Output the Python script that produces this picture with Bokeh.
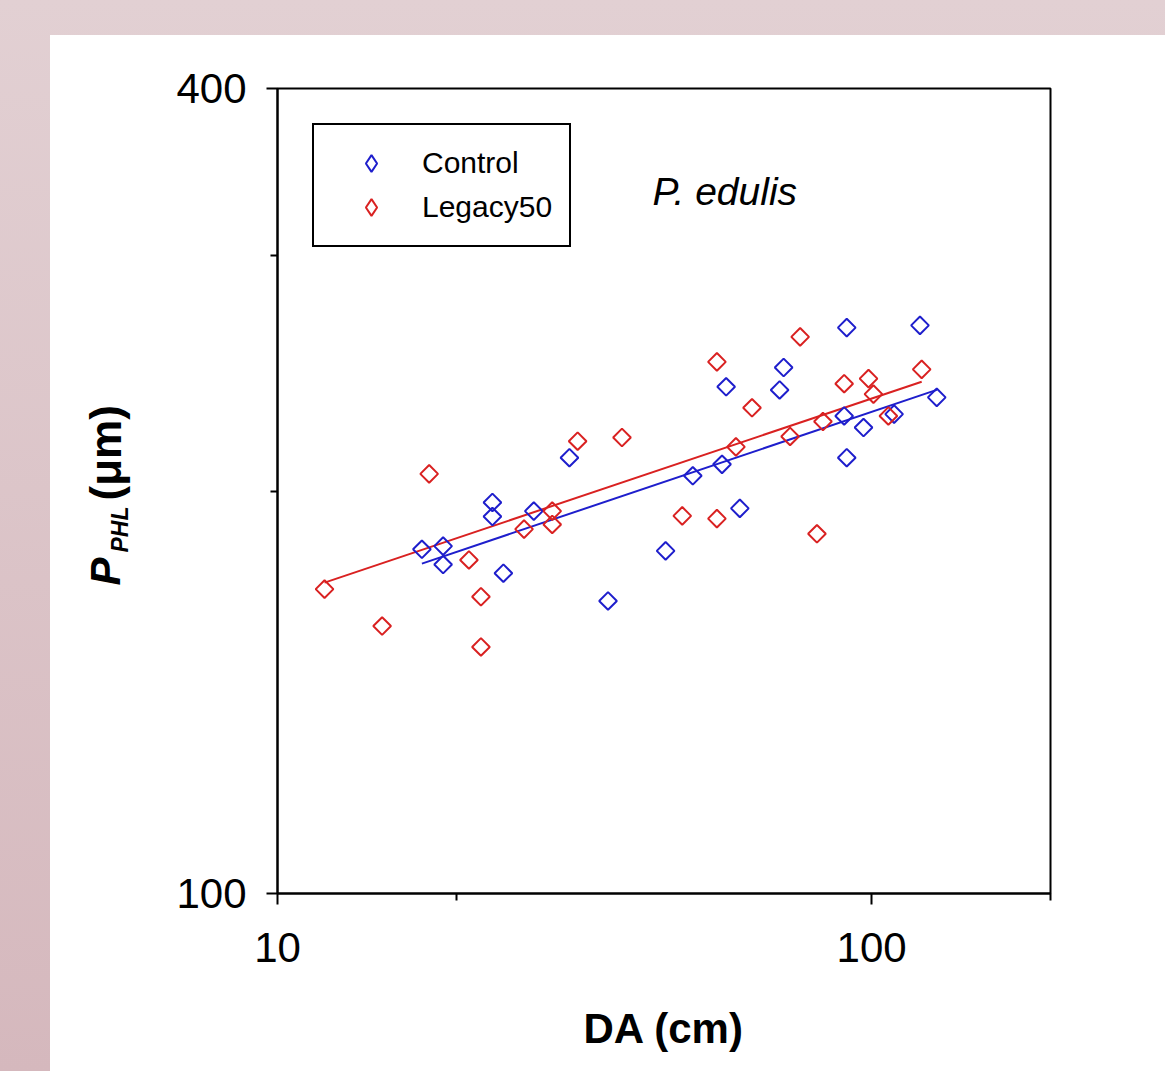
import numpy as np
from bokeh.plotting import figure
from bokeh.layouts import row
from bokeh.models import (Range1d, FixedTicker, BasicTickFormatter, Legend, LegendItem, Label)
from bokeh.core.properties import value
from bokeh.embed import file_html
from bokeh.resources import INLINE

# ---- data ----
ctrl_da = [17.5, 19.0, 19.0, 23.0, 23.0, 24.0, 27.0, 31.0, 36.0, 45.0, 50.0, 56.9,
           56.0, 60.0, 71.1, 70.0, 90.8, 89.9, 90.8, 96.9, 109.1, 120.6, 128.7]
ctrl_p = [180.9, 181.9, 176.2, 196.1, 191.4, 173.6, 193.2, 211.8, 165.5, 180.4, 205.3, 239.3,
          209.4, 194.1, 247.4, 238.0, 265.0, 227.6, 211.8, 223.1, 228.3, 266.0, 235.0]
leg_da = [12.0, 15.0, 18.0, 22.0, 22.0, 21.0, 26.0, 29.0, 29.0, 32.0, 38.0, 48.0, 54.9,
          54.9, 59.1, 62.9, 75.8, 72.9, 80.9, 82.8, 89.9, 98.8, 100.7, 106.7, 121.4]
leg_p = [168.9, 158.5, 206.0, 166.7, 152.9, 177.6, 187.3, 188.8, 193.2, 217.9, 219.3, 191.6, 249.8,
         190.7, 215.8, 230.8, 260.8, 219.7, 185.8, 225.4, 240.6, 242.7, 236.3, 227.6, 246.6]

# fitted power laws (log10 P = a + b*log10 DA)
ctrl_fit = [2.0604, 0.1499]
leg_fit = [2.0712, 0.1495]

x_major = [10, 100]
x_minor = [20, 200]
y_major = [100, 400]
y_minor = [200, 300]

BLUE = "#1E1ECC"
RED = "#D92121"
FONT = "Liberation Sans"

# ---------------- main plot ----------------
p = figure(width=1015, height=1036, x_axis_type="log", y_axis_type="log",
           x_range=Range1d(10, 200), y_range=Range1d(100, 400),
           output_backend="svg", toolbar_location=None, title=None)
p.min_border_left = 127
p.min_border_right = 115
p.min_border_top = 53
p.min_border_bottom = 178
p.border_fill_color = "white"
p.background_fill_color = "white"
p.outline_line_color = "black"
p.outline_line_width = 2
p.grid.visible = False

for ax in (p.xaxis[0], p.yaxis[0]):
    ax.axis_line_width = 2
    ax.axis_line_color = "black"
    ax.major_tick_line_width = 2
    ax.minor_tick_line_width = 2
    ax.major_tick_in = 0
    ax.major_tick_out = 11
    ax.minor_tick_in = 0
    ax.minor_tick_out = 7
    ax.major_label_text_font = FONT
    ax.major_label_text_font_size = "42px"
    ax.major_label_text_color = "black"
    ax.formatter = BasicTickFormatter(use_scientific=False)
p.xaxis.major_label_standoff = 28
p.yaxis.major_label_standoff = 20

p.xaxis.ticker = FixedTicker(ticks=x_major, minor_ticks=x_minor)
p.yaxis.ticker = FixedTicker(ticks=y_major, minor_ticks=y_minor)

p.xaxis.axis_label = "DA (cm)"
p.xaxis.axis_label_text_font = FONT
p.xaxis.axis_label_text_font_size = "42px"
p.xaxis.axis_label_text_font_style = "bold"
p.xaxis.axis_label_text_color = "black"
p.xaxis.axis_label_standoff = 40

# ---- regression lines ----
def fit_line(xs, coef):
    xx = np.array([min(xs), max(xs)])
    return xx, 10 ** (coef[0] + coef[1] * np.log10(xx))

fx, fy = fit_line(leg_da, leg_fit)
p.line(fx, fy, line_color=RED, line_width=2)
fx, fy = fit_line(ctrl_da, ctrl_fit)
p.line(fx, fy, line_color=BLUE, line_width=2)

# ---- points ----
p.scatter(ctrl_da, ctrl_p, marker="square", size=12.5, angle=np.pi / 4,
          fill_color=None, line_color=BLUE, line_width=2)
p.scatter(leg_da, leg_p, marker="square", size=12.5, angle=np.pi / 4,
          fill_color=None, line_color=RED, line_width=2)

# hidden diamond renderers that supply the legend glyphs
r_c = p.scatter(ctrl_da, ctrl_p, marker="diamond", fill_color=None, line_color=BLUE,
                line_width=2, visible=False)
r_l = p.scatter(leg_da, leg_p, marker="diamond", fill_color=None, line_color=RED,
                line_width=2, visible=False)

legend = Legend(items=[LegendItem(label="Control", renderers=[r_c]),
                       LegendItem(label="Legacy50", renderers=[r_l])],
                location="top_left", margin=35, padding=17, spacing=2,
                glyph_width=80, glyph_height=42, label_height=40, label_standoff=11,
                label_text_font=FONT, label_text_font_size="30px", label_text_color="black",
                border_line_color="black", border_line_width=2, border_line_alpha=1,
                background_fill_color="white", background_fill_alpha=1)
p.add_layout(legend)

p.add_layout(Label(x=375, y=702, x_units="screen", y_units="screen", text="P. edulis",
                   text_font=FONT, text_font_size="39px", text_font_style="italic",
                   text_color="black", text_baseline="alphabetic"))

# ---------------- y-axis title panel ----------------
lab = figure(width=100, height=1036, x_range=Range1d(0, 100), y_range=Range1d(0, 805),
             x_axis_location=None, y_axis_location=None, output_backend="svg",
             toolbar_location=None, title=None)
lab.min_border_left = 0
lab.min_border_right = 0
lab.min_border_top = 53
lab.min_border_bottom = 178
lab.grid.visible = False
lab.outline_line_color = None
lab.border_fill_color = "white"
lab.background_fill_color = "white"

lab.text(x=[55], y=[308], text=["P"], angle=np.pi / 2, text_font=value(FONT),
         text_font_size="42px", text_font_style="bold italic", text_color="black",
         text_align="left", text_baseline="alphabetic")
lab.text(x=[69], y=[341], text=["PHL"], angle=np.pi / 2, text_font=value(FONT),
         text_font_size="23px", text_font_style="bold italic", text_color="black",
         text_align="left", text_baseline="alphabetic")
lab.text(x=[55], y=[393], text=["(\u03bcm)"], angle=np.pi / 2, text_font=value(FONT),
         text_font_size="44px", text_font_style="bold", text_color="black",
         text_align="left", text_baseline="alphabetic")

layout = row(lab, p, margin=(35, 0, 0, 50), styles={"background-color": "white"})

html = file_html(layout, INLINE)
style = ("<style>html,body{margin:0;padding:0;overflow:hidden;"
         "background:linear-gradient(to bottom,#E2D0D3 0%,#D5B8BD 100%);}</style>")
html = html.replace("</head>", style + "</head>", 1)
open("out.html", "w").write(html)
